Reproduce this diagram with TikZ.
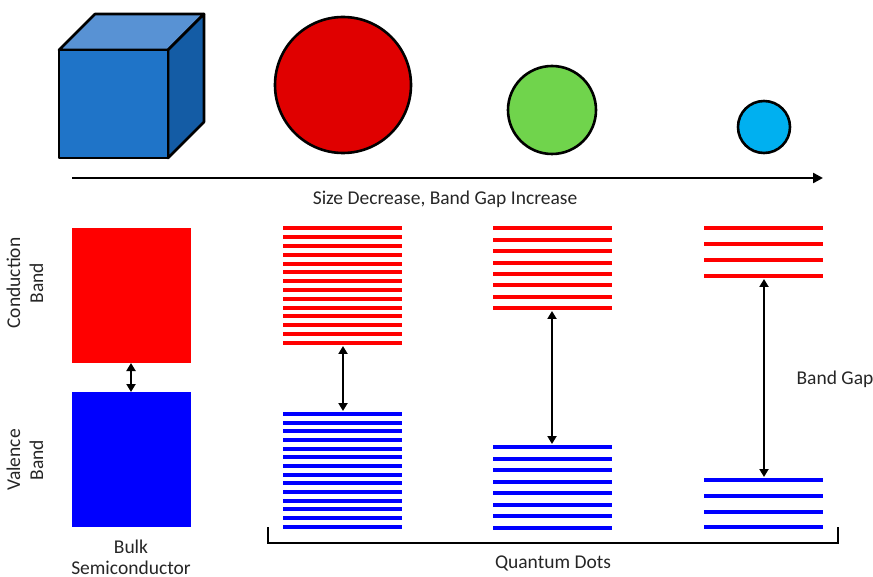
\documentclass[tikz,border=0pt]{standalone}
\usepackage{fontspec}
\setmainfont{Carlito}
\usetikzlibrary{arrows.meta}
\definecolor{cubefront}{RGB}{31,116,200}
\definecolor{cubetop}{RGB}{88,146,212}
\definecolor{cubeside}{RGB}{20,92,165}
\definecolor{circred}{RGB}{224,0,0}
\definecolor{circgreen}{RGB}{112,212,76}
\definecolor{circblue}{RGB}{0,176,240}
\definecolor{bandred}{RGB}{255,0,0}
\definecolor{bandblue}{RGB}{0,0,255}
\tikzset{
  outline/.style={draw=black,line width=2.6pt,line join=round},
  redline/.style={draw=bandred,line width=4pt},
  blueline/.style={draw=bandblue,line width=4pt},
  gaparrow/.style={draw=black,line width=2pt,{Triangle[length=8pt,width=9pt]}-{Triangle[length=8pt,width=9pt]}},
  lbl/.style={font=\fontsize{19.5}{23}\selectfont,text=black!85,inner sep=0pt}
}
\begin{document}
\begin{tikzpicture}[x=1pt,y=-1pt]
\useasboundingbox (0,0) rectangle (873,577);
% cube
\filldraw[outline,fill=cubetop] (59,50) -- (95,14) -- (204,14) -- (168,50) -- cycle;
\filldraw[outline,fill=cubeside] (168,50) -- (204,14) -- (204,122) -- (168,158) -- cycle;
\filldraw[outline,fill=cubefront] (59,50) rectangle (168,158);
% circles
\node[circle,outline,fill=circred,minimum size=136pt,inner sep=0pt] (c1) at (343,85) {};
\node[circle,outline,fill=circgreen,minimum size=88pt,inner sep=0pt] (c2) at (552,110) {};
\node[circle,outline,fill=circblue,minimum size=52pt,inner sep=0pt] (c3) at (764,127) {};
% size arrow
\coordinate (sa) at (72,178);
\coordinate (sb) at (823,178);
\draw[line width=2.4pt,-{Triangle[length=10pt,width=10pt]}] (sa) -- (sb);
\node[lbl] (sizelbl) at (445,199) {Size Decrease, Band Gap Increase};
% bulk
\fill[bandred] (72,228) rectangle (191,363);
\fill[bandblue] (72,392) rectangle (191,527);
\coordinate (bt) at (131,363);
\coordinate (bb) at (131,392);
\draw[gaparrow] (bt) -- (bb);
\node[lbl,rotate=90,align=center] (cb) at (25,283) {Conduction\\Band};
\node[lbl,rotate=90,align=center] (vb) at (25,460) {Valence\\Band};
\node[lbl,font=\fontsize{19.5}{21}\selectfont,align=center,anchor=south] (bulk) at (131,575) {Bulk\\Semiconductor};
% QD1
\foreach \i in {0,...,13} {
  \draw[redline] (283,228.5+\i*8.8) -- (402,228.5+\i*8.8);
  \draw[blueline] (283,414+\i*8.67) -- (402,414+\i*8.67);
}
\coordinate (q1t) at (343,346);
\coordinate (q1b) at (343,411);
\draw[gaparrow] (q1t) -- (q1b);
% QD2
\foreach \i in {0,...,7} {
  \draw[redline] (493,228.5+\i*11.4) -- (612,228.5+\i*11.4);
  \draw[blueline] (493,447+\i*11.5) -- (612,447+\i*11.5);
}
\coordinate (q2t) at (552,311);
\coordinate (q2b) at (552,444);
\draw[gaparrow] (q2t) -- (q2b);
% QD3
\foreach \i in {0,...,3} {
  \draw[redline] (704,228.5+\i*15.8) -- (823,228.5+\i*15.8);
  \draw[blueline] (704,480+\i*15.8) -- (823,480+\i*15.8);
}
\coordinate (q3t) at (764,279);
\coordinate (q3b) at (764,477);
\draw[gaparrow] (q3t) -- (q3b);
\node[lbl] (bg) at (835,379) {Band Gap};
% bracket
\coordinate (br1) at (268,527);
\coordinate (br2) at (268,543);
\coordinate (br3) at (838,543);
\coordinate (br4) at (838,527);
\draw[line width=2.4pt,line join=miter] (br1) -- (br2) -- (br3) -- (br4);
\node[lbl] (qd) at (553,563) {Quantum Dots};
\end{tikzpicture}
\end{document}
